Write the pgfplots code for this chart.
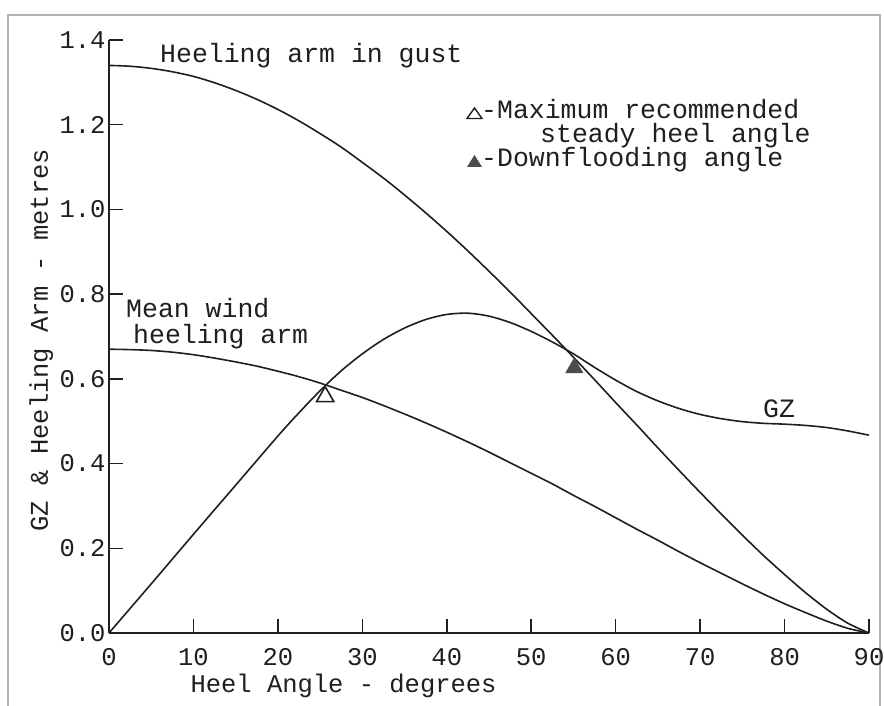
\documentclass[border=0pt]{standalone}
\usepackage{pgfplots}
\pgfplotsset{compat=1.18}
\usepackage{fontspec}
\setmainfont{Liberation Mono}
\definecolor{ink}{gray}{0.12}
\begin{document}
\begin{tikzpicture}[x=1bp,y=1bp,font=\fontsize{26.5bp}{30bp}\selectfont,color=ink]
\useasboundingbox (0,0) rectangle (884,706);
\draw[gray!60, line width=1.5bp] (8,-10) -- (8,691) -- (880,691) -- (880,-10);
\begin{axis}[
  at={(109bp,73bp)}, anchor=south west,
  scale only axis, width=760bp, height=593bp,
  xmin=0, xmax=90, ymin=0, ymax=1.4,
  axis x line=bottom, axis y line=left,
  axis line style={-, line width=1.8bp, ink},
  xtick={0,10,20,30,40,50,60,70,80,90},
  ytick={0,0.2,0.4,0.6,0.8,1.0,1.2,1.4},
  tick align=inside, major tick length=14bp,
  tick style={line width=1.5bp, ink},
  /pgf/number format/assume math mode=true,
  yticklabel style={/pgf/number format/fixed, /pgf/number format/fixed zerofill, /pgf/number format/precision=1},
  ticklabel style={font=\fontsize{25.5bp}{28bp}\selectfont, text=ink},
  xticklabel style={yshift=-12bp},
  xlabel={Heel Angle - degrees},
  ylabel={GZ \& Heeling Arm - metres},
  xlabel style={at={(axis description cs:0.107,-0.0995)}, anchor=base west, inner sep=0pt, font=\fontsize{25.5bp}{28bp}\selectfont},
  ylabel style={at={(axis description cs:-0.0803,0.494)}, anchor=base, inner sep=0pt, font=\fontsize{25.5bp}{28bp}\selectfont},
  clip=false,
]
% Heeling arm in gust
\addplot[ink, line width=1.6bp, smooth] coordinates {
(0,1.340) (2.5,1.338) (5,1.333) (7.5,1.325) (10,1.314) (12.5,1.299) (15,1.281) (17.5,1.260) (20,1.236) (22.5,1.209) (25,1.179) (27.5,1.147) (30,1.111) (32.5,1.074) (35,1.034) (37.5,0.992) (40,0.948) (42.5,0.902) (45,0.854) (47.5,0.805) (50,0.754) (52.5,0.703) (55,0.651) (57.5,0.598) (60,0.544) (62.5,0.491) (65,0.437) (67.5,0.384) (70,0.332) (72.5,0.281) (75,0.231) (77.5,0.183) (80,0.138) (82.5,0.095) (85,0.056) (87.5,0.023) (90,0.0)};
% Mean wind heeling arm
\addplot[ink, line width=1.6bp, smooth] coordinates {
(0,0.670) (2.5,0.669) (5,0.667) (7.5,0.663) (10,0.657) (12.5,0.649) (15,0.640) (17.5,0.630) (20,0.618) (22.5,0.605) (25,0.590) (27.5,0.573) (30,0.556) (32.5,0.537) (35,0.517) (37.5,0.496) (40,0.474) (42.5,0.451) (45,0.427) (47.5,0.402) (50,0.377) (52.5,0.352) (55,0.325) (57.5,0.299) (60,0.272) (62.5,0.245) (65,0.219) (67.5,0.192) (70,0.166) (72.5,0.141) (75,0.116) (77.5,0.092) (80,0.069) (82.5,0.048) (85,0.028) (87.5,0.011) (90,0.0)};
% GZ
\addplot[ink, line width=1.6bp, smooth] coordinates {
(0,0) (5,0.116) (10,0.233) (15,0.349) (20,0.465) (22.5,0.520) (25,0.572) (27.5,0.619) (30,0.659) (32.5,0.693) (35,0.720) (37.5,0.740) (40,0.752) (42.5,0.755) (45,0.748) (47.5,0.733) (50,0.712) (52.5,0.687) (55,0.659) (57.5,0.627) (60,0.597) (62.5,0.570) (65,0.548) (67.5,0.530) (70,0.516) (72.5,0.506) (75,0.499) (77.5,0.495) (80,0.493) (82.5,0.490) (85,0.485) (87.5,0.477) (90,0.467)};
% markers
\addplot[only marks, mark=triangle, mark size=10bp, mark options={line width=1.6bp, draw=ink}] coordinates {(25.6,0.558)};
\addplot[only marks, mark=triangle*, mark size=10bp, mark options={draw=black!70, fill=black!70}] coordinates {(55.1,0.626)};
\end{axis}
\node[anchor=base west, inner sep=0] at (160,643) {Heeling arm in gust};
\node[anchor=base west, inner sep=0] at (126,388) {Mean wind};
\node[anchor=base west, inner sep=0] at (133,362.5) {heeling arm};
\node[anchor=base west, inner sep=0] at (763,288) {GZ};
\draw[line width=1.4bp, ink] (467,587.5) -- (482,587.5) -- (474.5,598) -- cycle;
\node[anchor=base west, inner sep=0] at (481,587) {-Maximum recommended};
\node[anchor=base west, inner sep=0] at (540,563) {steady heel angle};
\fill[black!70] (467,539) -- (482,539) -- (474.5,551) -- cycle;
\node[anchor=base west, inner sep=0] at (481,539) {-Downflooding angle};
\end{tikzpicture}
\end{document}
